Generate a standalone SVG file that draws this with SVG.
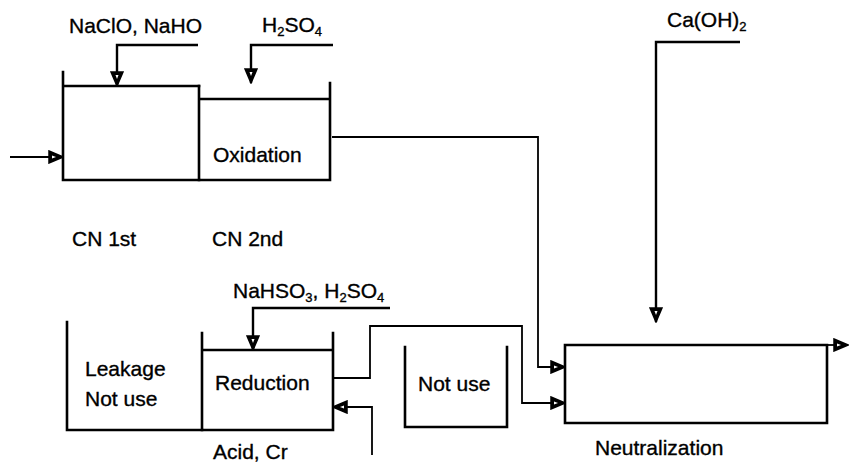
<svg xmlns="http://www.w3.org/2000/svg" width="849" height="464" viewBox="0 0 849 464">
<style>
text{font-family:"Liberation Sans",Arial,sans-serif;font-size:21px;fill:#000;stroke:#000;stroke-width:0.35}
.sub{font-size:13px}
.wall{fill:none;stroke:#000;stroke-width:2.6;stroke-linecap:square}
.conn{fill:none;stroke:#000;stroke-width:1.8;marker-end:url(#ah)}
.feed{fill:none;stroke:#000;stroke-width:2.4;marker-end:url(#ah)}
</style>
<defs>
<marker id="ah" viewBox="0 0 16 14" refX="15" refY="7" markerWidth="16" markerHeight="14" markerUnits="userSpaceOnUse" orient="auto">
<path d="M1,1 L15,7 L1,13 Z" fill="#000" stroke="#000" stroke-width="1.5" stroke-linejoin="miter"/>
<path d="M4,5.5 L8,7 L4,8.5 Z" fill="#fff"/>
</marker>
</defs>
<rect width="849" height="464" fill="#fff"/>

<g id="cn1">
<path class="wall" d="M63,72 V180 H199 M63,86 H199"/>
<text x="72" y="246">CN 1st</text>
</g>
<g id="cn2">
<path class="wall" d="M199,86 V180 H330 V83 M199,99 H330"/>
<text x="213" y="162">Oxidation</text>
<text x="212" y="246">CN 2nd</text>
</g>
<g id="leakage">
<path class="wall" d="M67,322 V430 H202"/>
<text x="85" y="376">Leakage</text>
<text x="85" y="406">Not use</text>
</g>
<g id="reduction">
<path class="wall" d="M202,333 V430 H333 V333 M202,350 H333"/>
<text x="215" y="390">Reduction</text>
<text x="213" y="459">Acid, Cr</text>
</g>
<g id="notuse">
<path class="wall" d="M405,347 V427 H507 V347"/>
<text x="418" y="391">Not use</text>
</g>
<g id="neutralization">
<path class="wall" d="M565,345 V423 H827 V345 M565,345 H827"/>
<text x="595" y="455" font-size="22">Neutralization</text>
</g>

<g id="reagents">
<text x="69" y="33">NaClO, NaHO</text>
<text x="262" y="32">H<tspan class="sub" dy="4">2</tspan><tspan dy="-4">SO</tspan><tspan class="sub" dy="4">4</tspan></text>
<text x="233" y="298">NaHSO<tspan class="sub" dy="4">3</tspan><tspan dy="-4">, H</tspan><tspan class="sub" dy="4">2</tspan><tspan dy="-4">SO</tspan><tspan class="sub" dy="4">4</tspan></text>
<text x="667" y="27">Ca(OH)<tspan class="sub" dy="4">2</tspan></text>
</g>

<g id="connectors">
<path class="conn" d="M10,157 H63"/>
<path class="feed" d="M198,45 H117 V86"/>
<path class="feed" d="M333,45 H251 V83"/>
<path class="conn" d="M332,137 H538 V367 H565"/>
<path class="feed" d="M390,308 H253 V350"/>
<path class="conn" d="M333,378 H370 V326 H522 V403 H565"/>
<path class="conn" d="M372,455 V407 H333"/>
<path class="feed" d="M740,42 H656 V322"/>
<path class="conn" d="M827,345 H848"/>
</g>
</svg>
